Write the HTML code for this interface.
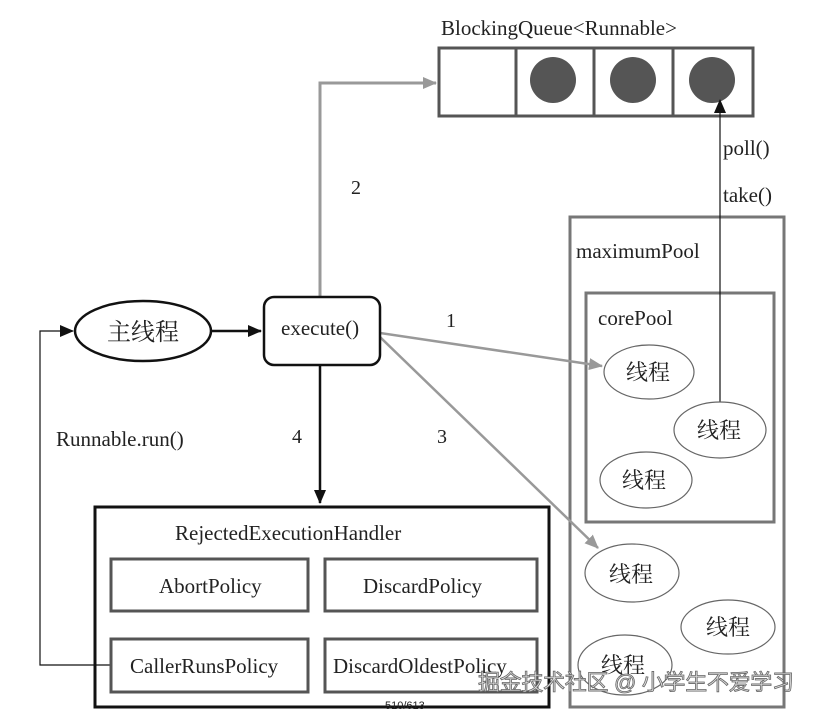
<!DOCTYPE html>
<html><head><meta charset="utf-8"><style>
html,body{margin:0;padding:0;background:#fff;width:815px;height:713px;overflow:hidden}
text{font-family:"Liberation Serif","Noto Serif CJK SC",serif;fill:#222}
.cj{font-family:"Liberation Serif","Noto Serif CJK SC","Noto Sans CJK SC",serif}
</style></head><body>
<svg width="815" height="713" viewBox="0 0 815 713" xmlns="http://www.w3.org/2000/svg">
<defs>
<marker id="ab" markerWidth="14" markerHeight="12" refX="13" refY="6" orient="auto" markerUnits="userSpaceOnUse"><path d="M0,0 L14,6 L0,12 z" fill="#111"/></marker>
<marker id="ag" markerWidth="14" markerHeight="12" refX="13" refY="6" orient="auto" markerUnits="userSpaceOnUse"><path d="M0,0 L14,6 L0,12 z" fill="#999"/></marker>
</defs>
<text x="441" y="35" font-size="21">BlockingQueue&lt;Runnable&gt;</text>
<rect x="439" y="48" width="314" height="68" fill="#fff" stroke="#555" stroke-width="3"/>
<line x1="516" y1="48" x2="516" y2="116" stroke="#555" stroke-width="3"/>
<line x1="594" y1="48" x2="594" y2="116" stroke="#555" stroke-width="3"/>
<line x1="673" y1="48" x2="673" y2="116" stroke="#555" stroke-width="3"/>
<circle cx="553" cy="80" r="23" fill="#555"/>
<circle cx="633" cy="80" r="23" fill="#555"/>
<circle cx="712" cy="80" r="23" fill="#555"/>
<rect x="570" y="217" width="214" height="490" fill="none" stroke="#777" stroke-width="3"/>
<text x="576" y="258" font-size="21">maximumPool</text>
<rect x="586" y="293" width="188" height="229" fill="none" stroke="#777" stroke-width="3"/>
<text x="598" y="325" font-size="21">corePool</text>
<g fill="#fff" stroke="#666" stroke-width="1.2">
<ellipse cx="649" cy="372" rx="45" ry="27"/>
<ellipse cx="646" cy="480" rx="46" ry="28"/>
<ellipse cx="632" cy="573" rx="47" ry="29"/>
<ellipse cx="728" cy="627" rx="47" ry="27"/>
<ellipse cx="625" cy="665" rx="47" ry="30"/>
</g>
<line x1="720" y1="410" x2="720" y2="100" stroke="#111" stroke-width="1.2" marker-end="url(#ab)"/>
<ellipse cx="720" cy="430" rx="46" ry="28" fill="#fff" stroke="#666" stroke-width="1.2"/>
<g class="cj" font-size="22">
<text class="cj" x="626" y="380">线程</text>
<text class="cj" x="697" y="438">线程</text>
<text class="cj" x="622" y="488">线程</text>
<text class="cj" x="609" y="582">线程</text>
<text class="cj" x="706" y="635">线程</text>
<text class="cj" x="601" y="673">线程</text>
</g>
<text x="723" y="155" font-size="21">poll()</text>
<text x="723" y="202" font-size="21">take()</text>
<polyline points="320,297 320,83 436,83" fill="none" stroke="#999" stroke-width="3" marker-end="url(#ag)"/>
<text x="351" y="194" font-size="20">2</text>
<line x1="380" y1="333" x2="602" y2="366" stroke="#999" stroke-width="2.5" marker-end="url(#ag)"/>
<text x="446" y="327" font-size="20">1</text>
<line x1="380" y1="337" x2="598" y2="548" stroke="#999" stroke-width="2.5" marker-end="url(#ag)"/>
<text x="437" y="443" font-size="20">3</text>
<line x1="320" y1="366" x2="320" y2="503" stroke="#111" stroke-width="2.5" marker-end="url(#ab)"/>
<text x="292" y="443" font-size="20">4</text>
<ellipse cx="143" cy="331" rx="68" ry="30" fill="#fff" stroke="#111" stroke-width="2.5"/>
<text class="cj" x="107" y="340" font-size="24">主线程</text>
<line x1="211" y1="331" x2="261" y2="331" stroke="#111" stroke-width="2.5" marker-end="url(#ab)"/>
<rect x="264" y="297" width="116" height="68" rx="10" fill="#fff" stroke="#111" stroke-width="2.5"/>
<text x="281" y="335" font-size="21">execute()</text>
<polyline points="110,665 40,665 40,331 73,331" fill="none" stroke="#111" stroke-width="1.2" marker-end="url(#ab)"/>
<text x="56" y="446" font-size="21">Runnable.run()</text>
<rect x="95" y="507" width="454" height="200" fill="none" stroke="#111" stroke-width="3"/>
<text x="175" y="540" font-size="21">RejectedExecutionHandler</text>
<g fill="none" stroke="#555" stroke-width="3">
<rect x="111" y="559" width="197" height="52"/>
<rect x="325" y="559" width="212" height="52"/>
<rect x="111" y="639" width="197" height="53"/>
<rect x="325" y="639" width="212" height="53"/>
</g>
<text x="159" y="593" font-size="21">AbortPolicy</text>
<text x="363" y="593" font-size="21">DiscardPolicy</text>
<text x="130" y="673" font-size="21">CallerRunsPolicy</text>
<text x="333" y="673" font-size="21">DiscardOldestPolicy</text>
<text x="385" y="709" font-size="11" style="font-family:'Liberation Sans',sans-serif">510/613</text>
<text x="478" y="690" font-size="22" textLength="316" style="font-family:'Liberation Sans','Noto Sans CJK SC',sans-serif;fill:#ddd;stroke:#666;stroke-width:0.8">掘金技术社区 @ 小学生不爱学习</text>
</svg>
</body></html>
